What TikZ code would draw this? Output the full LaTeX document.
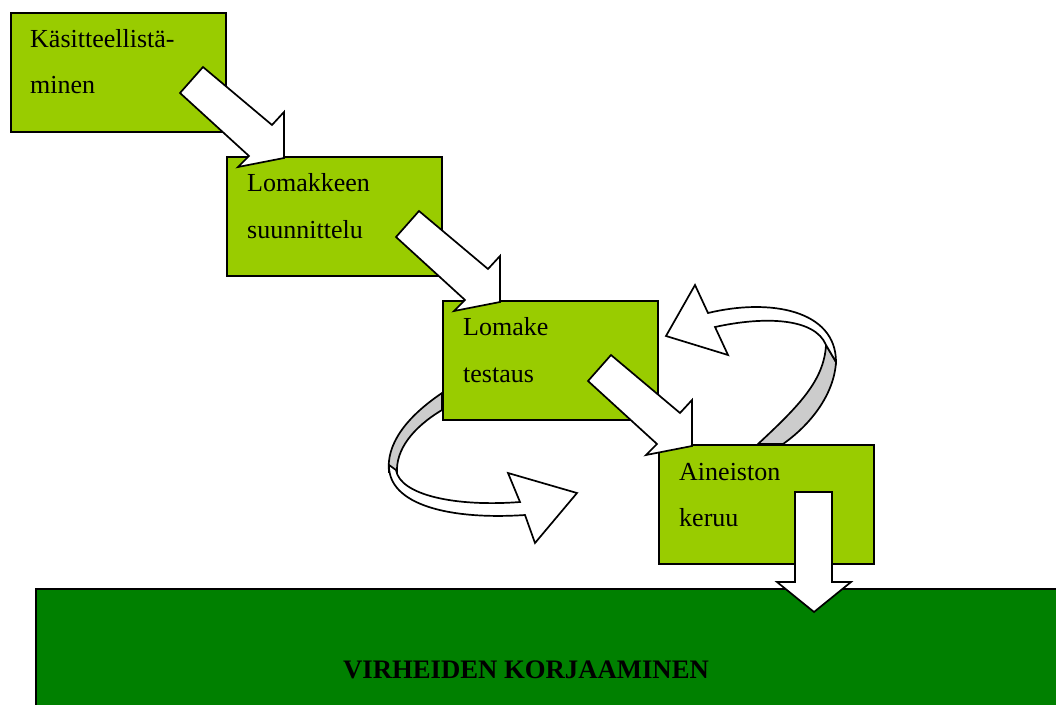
\documentclass[tikz,border=0pt]{standalone}
\usepackage{fontspec}
\setmainfont{Liberation Serif}
\definecolor{lightgreen}{HTML}{99CC00}
\definecolor{darkgreen}{HTML}{008000}
\definecolor{ribbonback}{HTML}{CCCCCC}
\begin{document}
\begin{tikzpicture}[x=1pt,y=-1pt,
  stepbox/.style={draw=black,line width=1.7pt,fill=lightgreen,inner sep=0pt,
    minimum width=215pt,minimum height=119pt,anchor=north west},
  label/.style={anchor=base west,inner sep=0pt,font=\fontsize{26}{30}\selectfont},
  blockarrow/.style={draw=black,line width=1.7pt,fill=white,line join=miter},
  ribbon/.style={draw=black,line width=1.7pt,fill=white},
  ribbonrear/.style={draw=black,line width=1.7pt,fill=ribbonback}]
\useasboundingbox (0,0) rectangle (1056,704);
\clip (0,0) rectangle (1056,704);

% curved feedback arrows (drawn first, boxes sit on their ends)
\path[ribbonrear] (442,393) .. controls (405,418) and (386,445) .. (389,472)
  -- (397,472) .. controls (396,450) and (412,428) .. (442,410) -- cycle;
\path[ribbon] (389,465) .. controls (388,505) and (450,520) .. (525,515)
  -- (535,543) -- (577,493) -- (508,473) -- (520,502)
  .. controls (455,507) and (400,495) .. (396,470) -- cycle;

\path[ribbonrear] (758,444) .. controls (800,405) and (824,380) .. (826,345)
  -- (836,362) .. controls (834,395) and (810,425) .. (783,444) -- cycle;
\path[ribbon] (836,362) .. controls (836,310) and (770,298) .. (708,313)
  -- (695,285) -- (666,336) -- (728,355) -- (715,327)
  .. controls (765,316) and (815,318) .. (826,345) -- cycle;

% process steps
\node[stepbox] (b1) at (10,12) {};
\node[stepbox] (b2) at (226,156) {};
\node[stepbox] (b3) at (442,300) {};
\node[stepbox] (b4) at (658,444) {};
\node[draw=black,line width=1.7pt,fill=darkgreen,inner sep=0pt,anchor=north west,
  minimum width=1040pt,minimum height=130pt] (fix) at (35,588) {};

\node[label] (t1a) at (30,47) {Käsitteellistä-};
\node[label] (t1b) at (30,93) {minen};
\node[label] (t2a) at (247,191) {Lomakkeen};
\node[label] (t2b) at (247,238) {suunnittelu};
\node[label] (t3a) at (463,335) {Lomake};
\node[label] (t3b) at (463,382) {testaus};
\node[label] (t4a) at (679,480) {Aineiston};
\node[label] (t4b) at (679,526) {keruu};
\node[label,font=\fontsize{26.7}{30}\selectfont\bfseries] (tfix) at (343,678) {VIRHEIDEN KORJAAMINEN};

% block arrows between steps
\foreach \name/\px/\py in {a1/203/67, a2/419/211, a3/611/355}{
  \coordinate (\name) at (\px,\py);
  \path[blockarrow,shift={(\name)}] (0,0) -- (69,58) -- (81,45) -- (81,91)
    -- (35,100) -- (46,89) -- (-23,26) -- cycle;
}
\coordinate (down) at (795,492);
\path[blockarrow,shift={(down)}] (0,0) -- (37,0) -- (37,90) -- (56,90)
  -- (19,120) -- (-18,90) -- (0,90) -- cycle;
\end{tikzpicture}
\end{document}
